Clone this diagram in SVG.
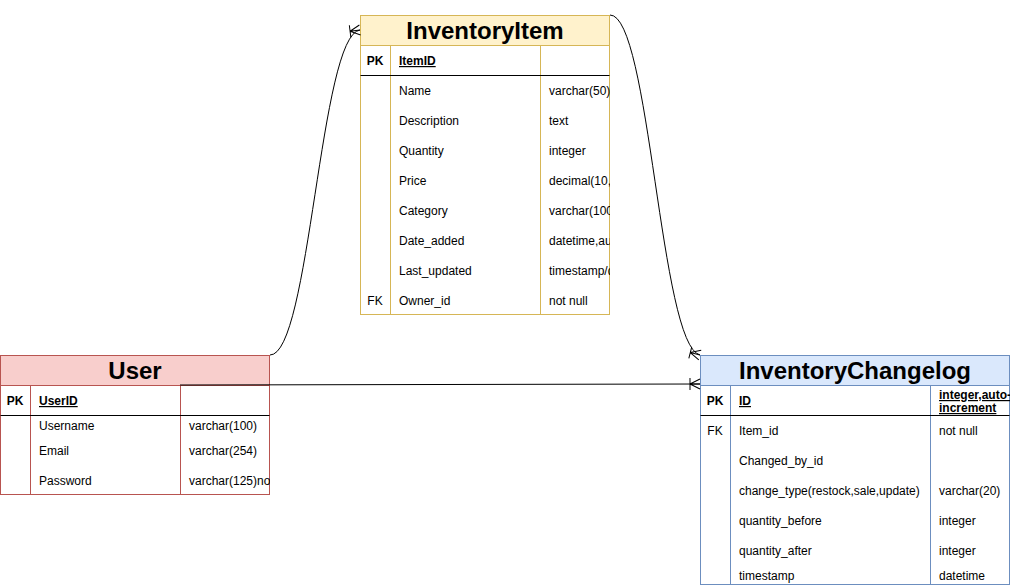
<svg xmlns="http://www.w3.org/2000/svg" width="1011" height="586" viewBox="0 0 1011 586">
<style>
text{font-family:"Liberation Sans",Arial,sans-serif;font-size:12px;fill:#000}
.title{font-size:24px;font-weight:bold;text-anchor:middle}
.pk{font-weight:bold;text-anchor:middle}
.key{font-weight:bold;text-decoration:underline}
.conn{fill:none;stroke:#000;stroke-width:1}
.sep{stroke:#000;stroke-width:1}
</style>
<defs>
<marker id="oneMany" markerUnits="userSpaceOnUse" markerWidth="14" markerHeight="14" viewBox="0 0 14 14" refX="13" refY="7" orient="auto" overflow="visible">
<path d="M3,7 L13,7 M3,1 L3,13 M3,7 L13,2 M3,7 L13,12" fill="none" stroke="#000" stroke-width="1"/>
</marker>
<clipPath id="cItem"><rect x="360" y="15" width="250" height="300"/></clipPath>
<clipPath id="cUser"><rect x="0" y="355" width="270" height="140"/></clipPath>
<clipPath id="cLog"><rect x="700" y="355" width="310" height="230"/></clipPath>
</defs>

<g id="InventoryItem">
<rect x="360.5" y="15.5" width="249" height="299" fill="#fff" stroke="#d6b656"/>
<rect x="360.5" y="15.5" width="249" height="30" fill="#fff2cc" stroke="#d6b656"/>
<line x1="390.5" y1="45.5" x2="390.5" y2="314.5" stroke="#d6b656"/>
<line x1="540.5" y1="45.5" x2="540.5" y2="314.5" stroke="#d6b656"/>
<line class="sep" x1="360.5" y1="75.5" x2="609.5" y2="75.5"/>
<text class="title" x="485" y="39">InventoryItem</text>
<g clip-path="url(#cItem)">
<text class="pk" x="375" y="65">PK</text>
<text class="key" x="399" y="65">ItemID</text>
<text x="399" y="95">Name</text><text x="549" y="95">varchar(50)</text>
<text x="399" y="125">Description</text><text x="549" y="125">text</text>
<text x="399" y="155">Quantity</text><text x="549" y="155">integer</text>
<text x="399" y="185">Price</text><text x="549" y="185">decimal(10,2)</text>
<text x="399" y="215">Category</text><text x="549" y="215">varchar(100)</text>
<text x="399" y="245">Date_added</text><text x="549" y="245">datetime,auto</text>
<text x="399" y="275">Last_updated</text><text x="549" y="275">timestamp/datetime</text>
<text x="375" y="305" text-anchor="middle">FK</text>
<text x="399" y="305">Owner_id</text><text x="549" y="305">not null</text>
</g>
</g>

<g id="User">
<rect x="0.5" y="355.5" width="269" height="139" fill="#fff" stroke="#b85450"/>
<rect x="0.5" y="355.5" width="269" height="30" fill="#f8cecc" stroke="#b85450"/>
<line x1="30.5" y1="385.5" x2="30.5" y2="494.5" stroke="#b85450"/>
<line x1="180.5" y1="385.5" x2="180.5" y2="494.5" stroke="#b85450"/>
<line class="sep" x1="0.5" y1="415.5" x2="269.5" y2="415.5"/>
<text class="title" x="135" y="379">User</text>
<g clip-path="url(#cUser)">
<text class="pk" x="15" y="405">PK</text>
<text class="key" x="39" y="405">UserID</text>
<text x="39" y="430">Username</text><text x="189" y="430">varchar(100)</text>
<text x="39" y="455">Email</text><text x="189" y="455">varchar(254)</text>
<text x="39" y="485">Password</text><text x="189" y="485">varchar(125)not null</text>
</g>
</g>

<g id="InventoryChangelog">
<rect x="700.5" y="355.5" width="309" height="229" fill="#fff" stroke="#6c8ebf"/>
<rect x="700.5" y="355.5" width="309" height="30" fill="#dae8fc" stroke="#6c8ebf"/>
<line x1="730.5" y1="385.5" x2="730.5" y2="584.5" stroke="#6c8ebf"/>
<line x1="930.5" y1="385.5" x2="930.5" y2="584.5" stroke="#6c8ebf"/>
<line class="sep" x1="700.5" y1="415.5" x2="1009.5" y2="415.5"/>
<text class="title" x="855" y="379">InventoryChangelog</text>
<g clip-path="url(#cLog)">
<text class="pk" x="715" y="405">PK</text>
<text class="key" x="739" y="405">ID</text>
<text class="key" x="939" y="399">integer,auto-</text>
<text class="key" x="939" y="412">increment</text>
<text x="715" y="435" text-anchor="middle">FK</text>
<text x="739" y="435">Item_id</text><text x="939" y="435">not null</text>
<text x="739" y="465">Changed_by_id</text>
<text x="739" y="495">change_type(restock,sale,update)</text><text x="939" y="495">varchar(20)</text>
<text x="739" y="525">quantity_before</text><text x="939" y="525">integer</text>
<text x="739" y="555">quantity_after</text><text x="939" y="555">integer</text>
<text x="739" y="580">timestamp</text><text x="939" y="580">datetime</text>
</g>
</g>

<g id="connectors">
<path class="conn" d="M270,355 C310,355 320,35 360,30" marker-end="url(#oneMany)"/>
<path class="conn" d="M610,15 C650,15 660,345 700,355" marker-end="url(#oneMany)"/>
<path class="conn" d="M180,385 L700,384" marker-end="url(#oneMany)"/>
</g>
</svg>
